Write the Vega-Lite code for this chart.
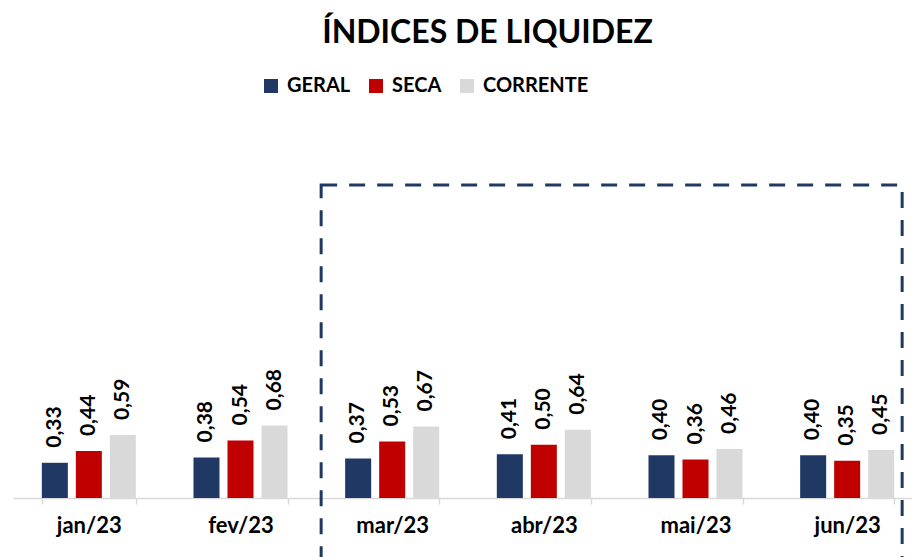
{
  "$schema": "https://vega.github.io/schema/vega-lite/v6.json",
  "autosize": "none",
  "width": 899,
  "height": 320,
  "padding": {"left": 13, "top": 178, "right": 0, "bottom": 59},
  "background": "white",
  "config": {
    "view": {"stroke": null},
    "locale": {"number": {"decimal": ",", "thousands": ".", "grouping": [3], "currency": ["R$", ""]}},
    "font": "Lato"
  },
  "title": {
    "text": "ÍNDICES DE LIQUIDEZ",
    "font": "Lato",
    "fontSize": 32,
    "fontWeight": "bold",
    "color": "#000000",
    "anchor": "middle",
    "dx": 25,
    "offset": 26
  },
  "data": {
    "values": [
      {"mes": "jan/23", "serie": "GERAL", "valor": 0.33},
      {"mes": "jan/23", "serie": "SECA", "valor": 0.44},
      {"mes": "jan/23", "serie": "CORRENTE", "valor": 0.59},
      {"mes": "fev/23", "serie": "GERAL", "valor": 0.38},
      {"mes": "fev/23", "serie": "SECA", "valor": 0.54},
      {"mes": "fev/23", "serie": "CORRENTE", "valor": 0.68},
      {"mes": "mar/23", "serie": "GERAL", "valor": 0.37},
      {"mes": "mar/23", "serie": "SECA", "valor": 0.53},
      {"mes": "mar/23", "serie": "CORRENTE", "valor": 0.67},
      {"mes": "abr/23", "serie": "GERAL", "valor": 0.41},
      {"mes": "abr/23", "serie": "SECA", "valor": 0.50},
      {"mes": "abr/23", "serie": "CORRENTE", "valor": 0.64},
      {"mes": "mai/23", "serie": "GERAL", "valor": 0.40},
      {"mes": "mai/23", "serie": "SECA", "valor": 0.36},
      {"mes": "mai/23", "serie": "CORRENTE", "valor": 0.46},
      {"mes": "jun/23", "serie": "GERAL", "valor": 0.40},
      {"mes": "jun/23", "serie": "SECA", "valor": 0.35},
      {"mes": "jun/23", "serie": "CORRENTE", "valor": 0.45}
    ]
  },
  "encoding": {
    "x": {
      "field": "mes",
      "type": "nominal",
      "sort": null,
      "scale": {"range": [0, 910], "paddingInner": 0.38, "paddingOuter": 0.19},
      "axis": {
        "title": null,
        "labelAngle": 0,
        "labelFont": "Lato",
        "labelFontSize": 22,
        "labelFontWeight": "bold",
        "labelColor": "#000000",
        "labelPadding": 11,
        "domainColor": "#d9d9d9",
        "domainWidth": 1.5,
        "tickColor": "#d9d9d9",
        "tickWidth": 1.5,
        "tickSize": 6,
        "tickBand": "extent"
      }
    }
  },
  "layer": [
    {
      "mark": {"type": "bar"},
      "encoding": {
        "xOffset": {"field": "serie", "type": "nominal", "sort": ["GERAL", "SECA", "CORRENTE"], "scale": {"paddingInner": 0.235, "paddingOuter": 0}},
        "y": {"field": "valor", "type": "quantitative", "scale": {"domain": [0, 3]}, "axis": null},
        "color": {
          "field": "serie",
          "type": "nominal",
          "sort": ["GERAL", "SECA", "CORRENTE"],
          "scale": {"domain": ["GERAL", "SECA", "CORRENTE"], "range": ["#1f3864", "#c00000", "#d9d9d9"]},
          "legend": {
            "title": null,
            "orient": "none",
            "direction": "horizontal",
            "legendX": 248,
            "legendY": -102,
            "symbolType": "square",
            "symbolSize": 196,
            "symbolStrokeWidth": 0,
            "labelFont": "Lato",
            "labelFontSize": 20,
            "labelFontWeight": "bold",
            "labelColor": "#000000",
            "labelOffset": 6,
            "columnPadding": 15
          }
        }
      }
    },
    {
      "mark": {"type": "text", "angle": 270, "align": "left", "baseline": "middle", "dx": 15, "font": "Lato", "fontSize": 21, "fontWeight": "bold", "color": "#000000"},
      "encoding": {
        "xOffset": {"field": "serie", "type": "nominal", "sort": ["GERAL", "SECA", "CORRENTE"]},
        "y": {"field": "valor", "type": "quantitative"},
        "text": {"field": "valor", "type": "quantitative", "format": ".2f"}
      }
    },
    {
      "data": {"values": [{"inicio": "mar/23", "fim": "jun/23", "topo": 2.934, "base": -1}]},
      "mark": {"type": "rect", "fill": null, "filled": false, "stroke": "#1f3864", "strokeWidth": 3, "strokeDash": [16, 12], "xOffset": -24, "x2Offset": 102},
      "encoding": {
        "x": {"field": "inicio", "type": "nominal", "bandPosition": 0},
        "x2": {"field": "fim", "bandPosition": 0},
        "y": {"field": "topo", "type": "quantitative"},
        "y2": {"field": "base"}
      }
    }
  ]
}
